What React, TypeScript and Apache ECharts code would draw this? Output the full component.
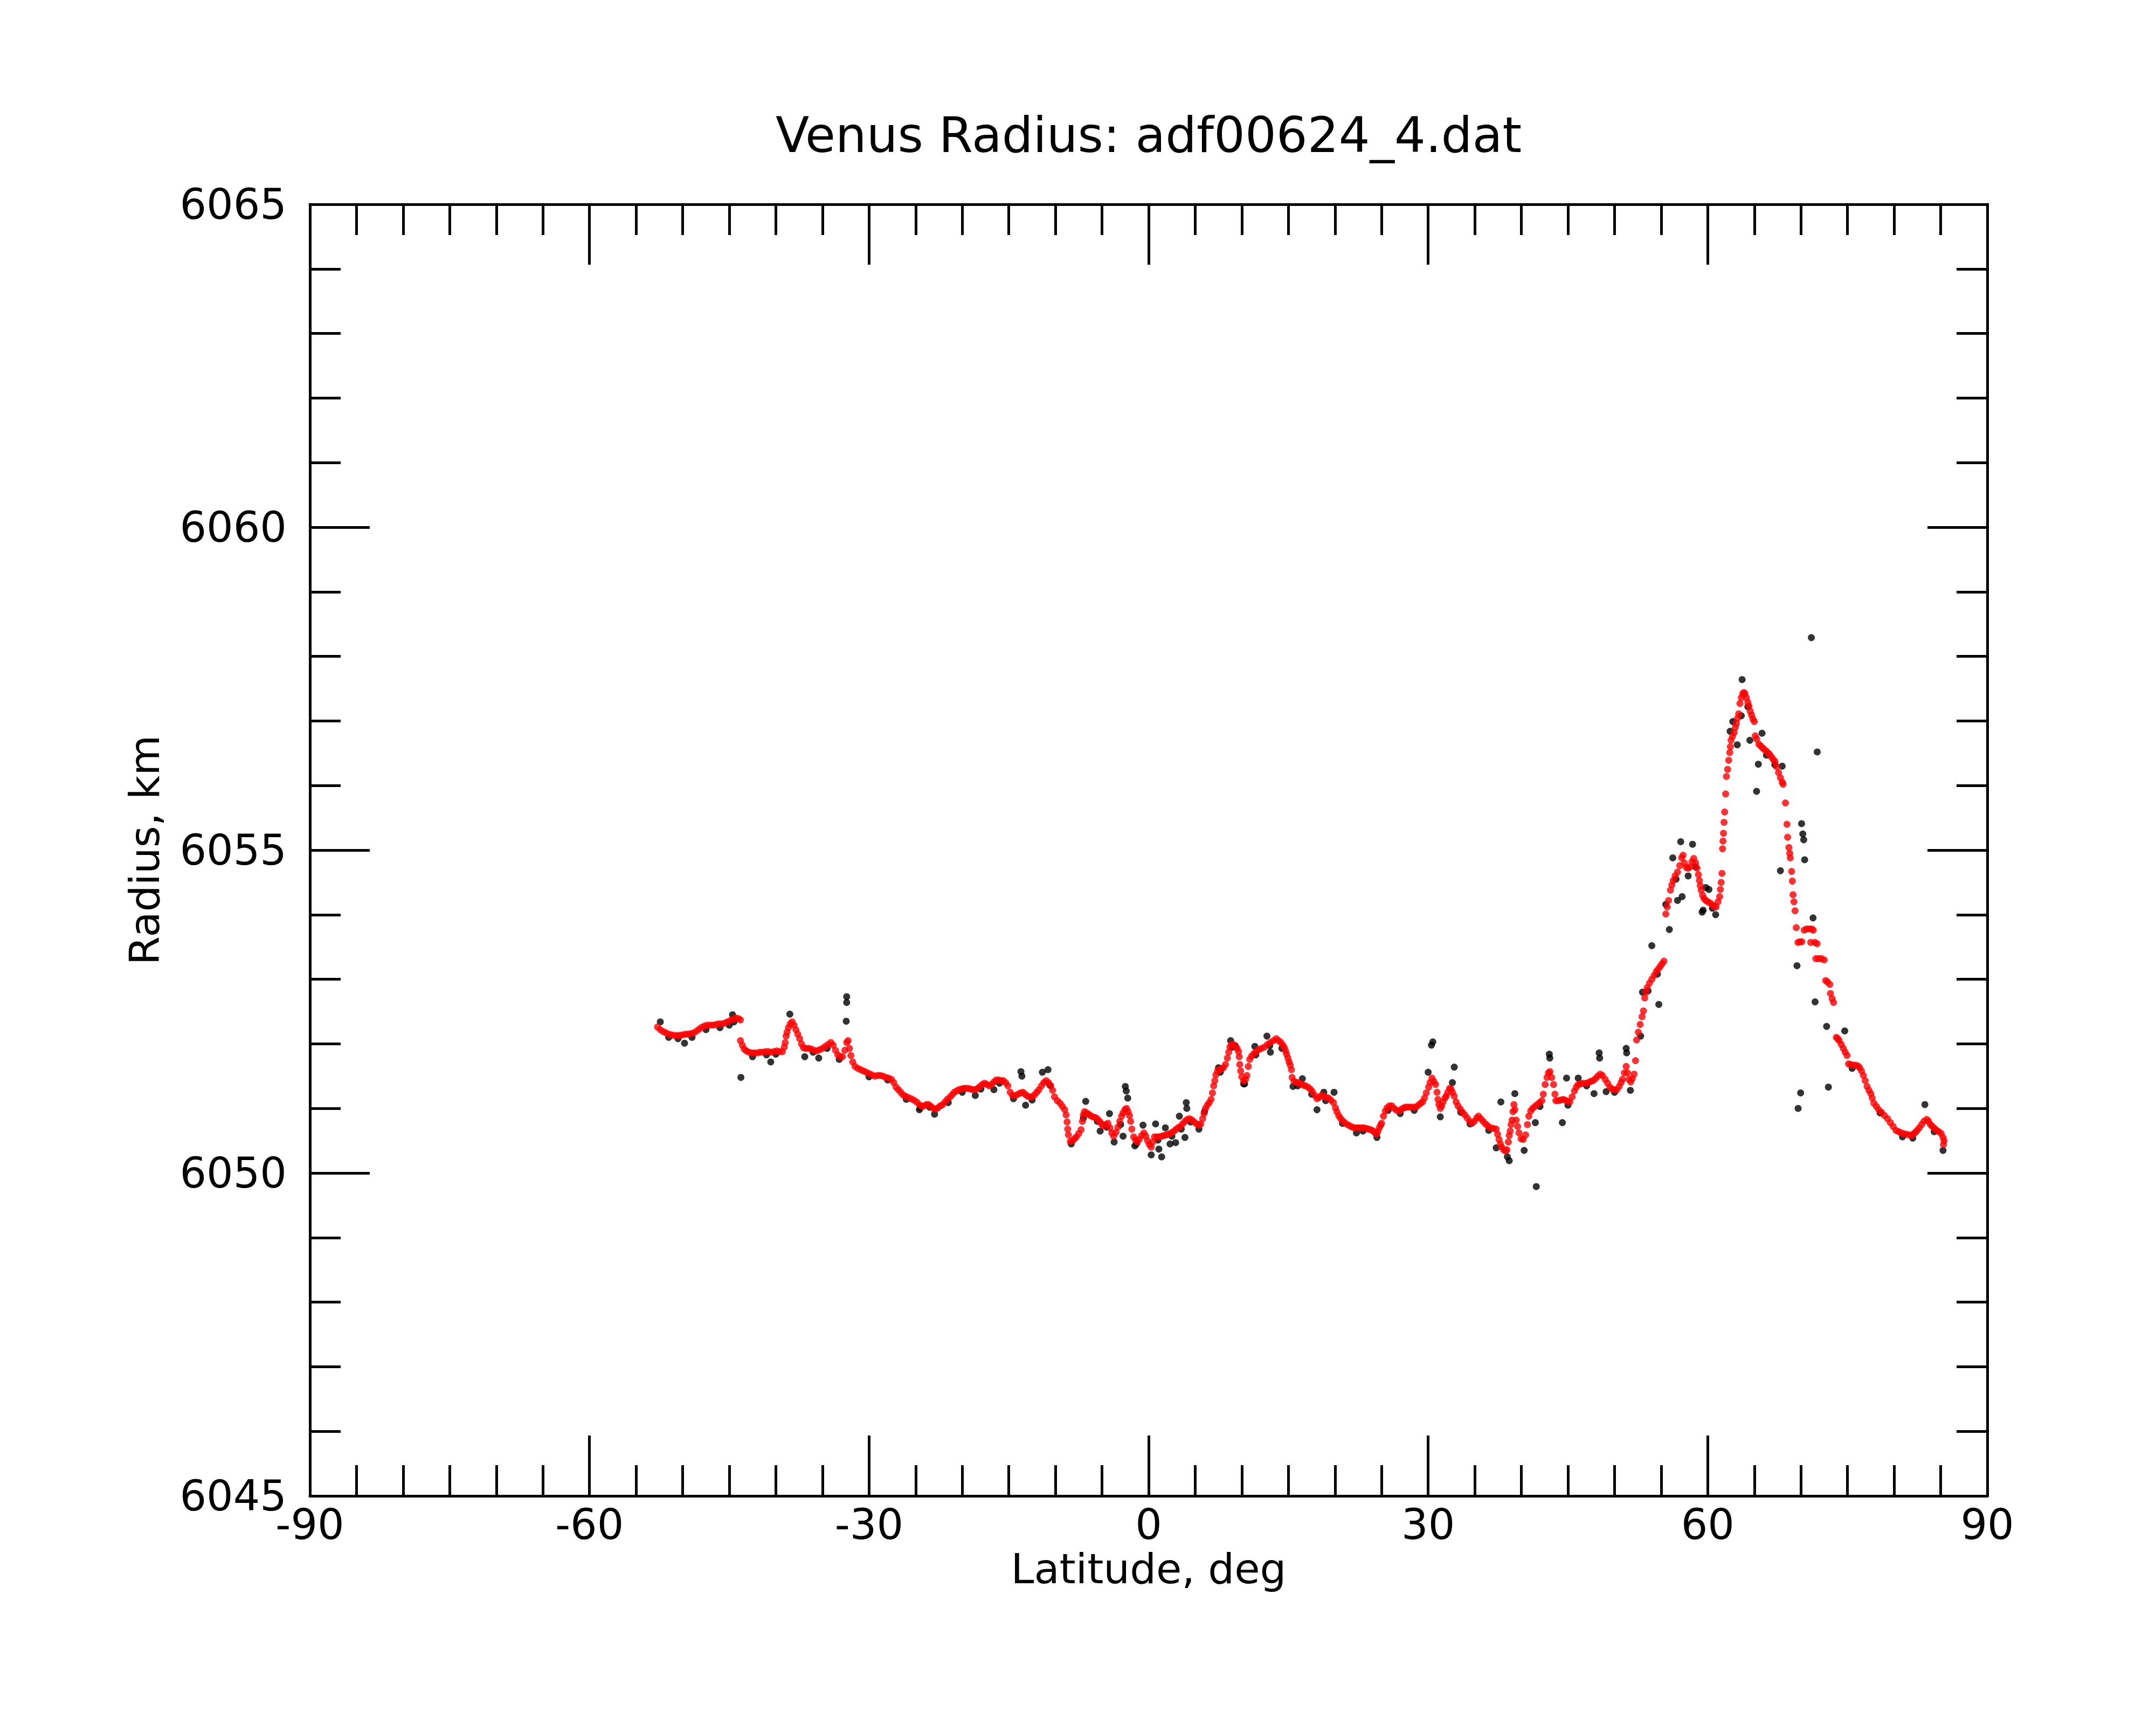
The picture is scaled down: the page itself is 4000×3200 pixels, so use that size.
import React, { useEffect, useRef } from "react";
import * as echarts from "echarts";

// ---- Text ----
const TITLE = "Venus Radius: adf00624_4.dat";
const X_NAME = "Latitude, deg";
const Y_NAME = "Radius, km";

// ---- Axes ----
const X_MIN = -90;
const X_MAX = 90;
const X_STEP = 30;
const Y_MIN = 6045;
const Y_MAX = 6065;
const Y_STEP = 5;

// ---- Smoothed radius (red), [latitude, radius km] ----
const redSouth: number[][] = [
  [-52.7, 6052.26], [-52.4, 6052.22], [-52.1, 6052.19], [-51.8, 6052.17], [-51.5, 6052.15],
  [-51.2, 6052.14], [-50.9, 6052.13], [-50.6, 6052.13], [-50.3, 6052.13], [-50.0, 6052.14],
  [-49.7, 6052.15], [-49.4, 6052.15], [-49.1, 6052.16], [-48.8, 6052.17], [-48.5, 6052.2],
  [-48.2, 6052.23], [-47.9, 6052.26], [-47.6, 6052.28], [-47.3, 6052.29], [-47.0, 6052.29],
  [-46.7, 6052.29], [-46.4, 6052.3], [-46.1, 6052.31], [-45.8, 6052.31], [-45.5, 6052.32],
  [-45.2, 6052.34], [-44.9, 6052.36], [-44.6, 6052.38], [-44.3, 6052.4], [-44.0, 6052.39],
  [-43.8, 6052.37],
];

const redSouthMid: number[][] = [
  [-43.8, 6052.05], [-43.6, 6051.98], [-43.4, 6051.92], [-43.16, 6051.89], [-42.9, 6051.87],
  [-42.6, 6051.86], [-42.3, 6051.86], [-42.0, 6051.86], [-41.7, 6051.87], [-41.4, 6051.87],
  [-41.1, 6051.88], [-40.8, 6051.88], [-40.5, 6051.87], [-40.2, 6051.88], [-39.9, 6051.89],
  [-39.6, 6051.88], [-39.3, 6051.88], [-39.1, 6051.95], [-39.0, 6052.02], [-38.9, 6052.12],
  [-38.8, 6052.18], [-38.65, 6052.25], [-38.45, 6052.31], [-38.25, 6052.34], [-38.05, 6052.29],
  [-37.85, 6052.22], [-37.65, 6052.15], [-37.45, 6052.08], [-37.25, 6052.0], [-37.05, 6051.94],
  [-36.8, 6051.93], [-36.5, 6051.93], [-36.2, 6051.92], [-35.9, 6051.9], [-35.6, 6051.89],
  [-35.3, 6051.91], [-35.0, 6051.93], [-34.7, 6051.96], [-34.4, 6051.99], [-34.1, 6052.02],
  [-33.85, 6051.98], [-33.6, 6051.9], [-33.35, 6051.83], [-33.1, 6051.8], [-32.85, 6051.8],
  [-32.6, 6051.9], [-32.4, 6052.02], [-32.25, 6052.05], [-32.1, 6051.93], [-31.95, 6051.82],
  [-31.75, 6051.72], [-31.5, 6051.65], [-31.2, 6051.62], [-30.9, 6051.6], [-30.6, 6051.58],
  [-30.3, 6051.56], [-30.0, 6051.54], [-29.7, 6051.52], [-29.4, 6051.5], [-29.1, 6051.51],
  [-28.8, 6051.51], [-28.5, 6051.5], [-28.2, 6051.48], [-27.9, 6051.47], [-27.6, 6051.45],
  [-27.35, 6051.4], [-27.1, 6051.33], [-26.85, 6051.29], [-26.6, 6051.25], [-26.35, 6051.21],
  [-26.1, 6051.19], [-25.8, 6051.17], [-25.5, 6051.15], [-25.2, 6051.13], [-24.9, 6051.1],
  [-24.6, 6051.06], [-24.35, 6051.03], [-24.1, 6051.04], [-23.85, 6051.06], [-23.6, 6051.06],
  [-23.35, 6051.03], [-23.1, 6051.0], [-22.85, 6050.99], [-22.6, 6051.01], [-22.35, 6051.04],
  [-22.1, 6051.06], [-21.85, 6051.1], [-21.6, 6051.14], [-21.35, 6051.17], [-21.1, 6051.21],
  [-20.85, 6051.25], [-20.6, 6051.27], [-20.34, 6051.29], [-20.1, 6051.3], [-19.85, 6051.31],
  [-19.6, 6051.31], [-19.34, 6051.31], [-19.1, 6051.3], [-18.85, 6051.29], [-18.6, 6051.29],
  [-18.35, 6051.31], [-18.1, 6051.34], [-17.85, 6051.37], [-17.6, 6051.39], [-17.35, 6051.37],
  [-17.1, 6051.35], [-16.85, 6051.37], [-16.6, 6051.41], [-16.35, 6051.44], [-16.1, 6051.44],
  [-15.85, 6051.43], [-15.6, 6051.43], [-15.35, 6051.4], [-15.1, 6051.35], [-14.85, 6051.25],
  [-14.6, 6051.2], [-14.3, 6051.2], [-14.0, 6051.22], [-13.75, 6051.24], [-13.5, 6051.25],
  [-13.25, 6051.22], [-13.0, 6051.19], [-12.75, 6051.18], [-12.5, 6051.18], [-12.25, 6051.21],
  [-12.0, 6051.25], [-11.77, 6051.29], [-11.5, 6051.35], [-11.25, 6051.4], [-11.0, 6051.43],
  [-10.75, 6051.4], [-10.5, 6051.35], [-10.3, 6051.28], [-10.1, 6051.18], [-9.8, 6051.12],
  [-9.5, 6051.08], [-9.25, 6051.03], [-9.0, 6050.98], [-8.85, 6050.9], [-8.75, 6050.79],
  [-8.68, 6050.68], [-8.6, 6050.59], [-8.4, 6050.49], [-8.15, 6050.5], [-7.95, 6050.53],
  [-7.75, 6050.56], [-7.5, 6050.61], [-7.25, 6050.67], [-7.1, 6050.8], [-7.0, 6050.9],
  [-6.88, 6050.95], [-6.65, 6050.93], [-6.45, 6050.91], [-6.25, 6050.89], [-6.0, 6050.87],
  [-5.75, 6050.86], [-5.5, 6050.84], [-5.25, 6050.8], [-5.05, 6050.76], [-4.87, 6050.73],
  [-4.62, 6050.75], [-4.37, 6050.77], [-4.15, 6050.7], [-3.95, 6050.62], [-3.75, 6050.57],
  [-3.5, 6050.63], [-3.3, 6050.71], [-3.1, 6050.8], [-2.9, 6050.88], [-2.74, 6050.93],
  [-2.55, 6050.98], [-2.37, 6051.0], [-2.2, 6050.95], [-2.05, 6050.89], [-1.93, 6050.8],
  [-1.8, 6050.68], [-1.6, 6050.56], [-1.4, 6050.51], [-1.22, 6050.48], [-1.0, 6050.52],
  [-0.75, 6050.58], [-0.5, 6050.62], [-0.3, 6050.57], [-0.12, 6050.5],
];

const redEquator: number[][] = [
  [0.08, 6050.44], [0.28, 6050.4], [0.45, 6050.48], [0.63, 6050.56], [0.9, 6050.56],
  [1.15, 6050.56], [1.4, 6050.57], [1.65, 6050.58], [1.9, 6050.59], [2.15, 6050.6],
  [2.4, 6050.62], [2.65, 6050.64], [2.9, 6050.67], [3.15, 6050.7], [3.4, 6050.72],
  [3.65, 6050.76], [3.9, 6050.8], [4.15, 6050.83], [4.4, 6050.84], [4.65, 6050.82],
  [4.9, 6050.79], [5.15, 6050.76], [5.4, 6050.74], [5.6, 6050.76], [5.8, 6050.84],
  [5.95, 6050.92], [6.1, 6051.0], [6.3, 6051.05], [6.5, 6051.09], [6.7, 6051.14],
  [6.85, 6051.24], [6.98, 6051.35], [7.1, 6051.43], [7.22, 6051.52], [7.4, 6051.58],
  [7.6, 6051.6], [7.8, 6051.61], [8.03, 6051.63], [8.25, 6051.68], [8.45, 6051.78],
  [8.6, 6051.87], [8.72, 6051.95], [8.9, 6051.99], [9.1, 6051.99], [9.3, 6051.96],
  [9.5, 6051.93], [9.65, 6051.88], [9.72, 6051.8], [9.78, 6051.68], [9.88, 6051.58],
  [10.0, 6051.49], [10.2, 6051.42], [10.4, 6051.45], [10.55, 6051.51], [10.7, 6051.65],
  [10.85, 6051.76], [11.05, 6051.81], [11.3, 6051.85], [11.55, 6051.88], [11.8, 6051.91],
  [12.1, 6051.93], [12.43, 6051.95], [12.75, 6051.99], [13.07, 6052.02], [13.4, 6052.05],
  [13.7, 6052.08], [13.95, 6052.05], [14.2, 6052.02], [14.4, 6051.98], [14.57, 6051.94],
  [14.7, 6051.89], [14.8, 6051.84], [14.95, 6051.78], [15.07, 6051.72], [15.2, 6051.67],
  [15.33, 6051.6], [15.4, 6051.48], [15.6, 6051.42], [15.85, 6051.4], [16.07, 6051.4],
  [16.35, 6051.38], [16.6, 6051.36], [16.83, 6051.35], [17.1, 6051.33], [17.35, 6051.3],
  [17.58, 6051.26], [17.85, 6051.2], [18.07, 6051.15], [18.3, 6051.17], [18.55, 6051.2],
  [18.8, 6051.19], [19.05, 6051.17], [19.3, 6051.16], [19.55, 6051.13], [19.84, 6051.09],
  [20.05, 6051.01], [20.2, 6050.95], [20.4, 6050.89], [20.58, 6050.85], [20.8, 6050.81],
  [21.05, 6050.78], [21.33, 6050.75], [21.6, 6050.73], [21.85, 6050.71], [22.1, 6050.7],
  [22.35, 6050.7], [22.6, 6050.7], [22.85, 6050.7], [23.1, 6050.7], [23.35, 6050.69],
  [23.6, 6050.68], [23.85, 6050.67], [24.1, 6050.65], [24.3, 6050.62], [24.46, 6050.6],
  [24.6, 6050.64], [24.75, 6050.7], [24.9, 6050.74], [25.0, 6050.77], [25.2, 6050.88],
  [25.4, 6050.96], [25.6, 6051.01], [25.85, 6051.04], [26.1, 6051.04], [26.35, 6051.0],
  [26.6, 6050.97], [26.9, 6050.96], [27.15, 6050.99], [27.4, 6051.01], [27.6, 6051.02],
  [27.85, 6051.02], [28.1, 6051.02], [28.4, 6051.02], [28.7, 6051.02], [28.95, 6051.05],
  [29.2, 6051.08], [29.4, 6051.1], [29.6, 6051.16], [29.8, 6051.24], [30.05, 6051.33],
  [30.2, 6051.4], [30.4, 6051.47], [30.6, 6051.42], [30.8, 6051.37], [30.95, 6051.25],
  [31.05, 6051.14], [31.15, 6051.06], [31.3, 6051.0], [31.45, 6051.04], [31.6, 6051.1],
  [31.8, 6051.16], [31.93, 6051.19], [32.1, 6051.25], [32.3, 6051.31], [32.45, 6051.3],
  [32.6, 6051.25], [32.8, 6051.19], [33.0, 6051.1], [33.2, 6051.04], [33.45, 6050.99],
  [33.7, 6050.94], [33.93, 6050.9], [34.2, 6050.85], [34.45, 6050.8], [34.7, 6050.77],
  [34.95, 6050.8], [35.2, 6050.85], [35.4, 6050.88], [35.65, 6050.84], [35.9, 6050.8],
  [36.15, 6050.76], [36.4, 6050.73], [36.7, 6050.7], [37.0, 6050.69], [37.3, 6050.68],
];

const redNorthMid: number[][] = [
  [37.45, 6050.6], [37.6, 6050.52], [37.75, 6050.45], [37.9, 6050.4], [38.1, 6050.36],
  [38.3, 6050.34], [38.45, 6050.36], [38.6, 6050.48], [38.7, 6050.58], [38.8, 6050.65],
  [38.9, 6050.75], [39.0, 6050.82], [39.1, 6050.95], [39.2, 6051.06], [39.3, 6050.98],
  [39.45, 6050.82], [39.6, 6050.72], [39.75, 6050.62], [39.97, 6050.53], [40.2, 6050.52],
  [40.46, 6050.59], [40.65, 6050.75], [40.8, 6050.88], [41.0, 6050.96], [41.2, 6051.0],
  [41.45, 6051.03], [41.7, 6051.06], [41.95, 6051.09], [42.2, 6051.12], [42.35, 6051.22],
  [42.55, 6051.37], [42.75, 6051.48], [42.9, 6051.55], [43.07, 6051.57], [43.25, 6051.48],
  [43.46, 6051.37], [43.6, 6051.22], [43.7, 6051.12], [43.95, 6051.12], [44.2, 6051.13],
  [44.47, 6051.14], [44.7, 6051.13], [44.95, 6051.11], [45.2, 6051.1], [45.45, 6051.18],
  [45.7, 6051.27], [45.9, 6051.33], [46.1, 6051.37], [46.35, 6051.38], [46.6, 6051.39],
  [46.97, 6051.39], [47.2, 6051.4], [47.45, 6051.42], [47.7, 6051.43], [47.95, 6051.46],
  [48.2, 6051.5], [48.46, 6051.53], [48.7, 6051.51], [49.0, 6051.45], [49.25, 6051.39],
  [49.5, 6051.33], [49.75, 6051.3], [50.0, 6051.29], [50.25, 6051.29], [50.5, 6051.34],
  [50.7, 6051.4], [50.86, 6051.45], [51.05, 6051.55], [51.25, 6051.65], [51.4, 6051.55],
  [51.55, 6051.45], [51.74, 6051.41], [51.9, 6051.46], [52.1, 6051.53], [52.25, 6051.74],
  [52.37, 6052.06], [52.55, 6052.18], [52.75, 6052.3], [52.95, 6052.42], [53.1, 6052.51],
  [53.24, 6052.71], [53.38, 6052.8], [53.5, 6052.87], [53.75, 6052.94], [54.0, 6053.0],
  [54.25, 6053.06], [54.48, 6053.12], [54.7, 6053.16], [54.9, 6053.2], [55.1, 6053.24],
  [55.3, 6053.28], [55.5, 6054.01], [55.65, 6054.12], [55.8, 6054.22], [56.0, 6054.38],
  [56.15, 6054.46], [56.3, 6054.53], [56.5, 6054.6], [56.76, 6054.66], [57.0, 6054.76],
  [57.2, 6054.88], [57.35, 6054.92], [57.5, 6054.8], [57.7, 6054.73], [57.9, 6054.72],
  [58.1, 6054.74], [58.3, 6054.82], [58.5, 6054.87], [58.7, 6054.8], [58.85, 6054.72],
  [59.0, 6054.62], [59.1, 6054.53], [59.2, 6054.45], [59.3, 6054.38], [59.45, 6054.3],
  [59.6, 6054.25], [59.8, 6054.22], [60.0, 6054.2], [60.26, 6054.18], [60.5, 6054.15],
  [60.7, 6054.13], [60.9, 6054.12], [61.1, 6054.2], [61.28, 6054.28],
];

const redNorth: number[][] = [
  [61.36, 6054.39], [61.44, 6054.5], [61.53, 6054.64], [61.59, 6055.02], [61.64, 6055.14],
  [61.69, 6055.26], [61.75, 6055.43], [61.82, 6055.59], [61.92, 6055.87], [62.01, 6056.14],
  [62.13, 6056.25], [62.25, 6056.39], [62.36, 6056.51], [62.43, 6056.6], [62.5, 6056.7],
  [62.65, 6056.76], [62.84, 6056.82], [62.96, 6056.9], [63.08, 6056.96], [63.2, 6057.04],
  [63.32, 6057.11], [63.46, 6057.27], [63.6, 6057.36], [63.75, 6057.42], [63.88, 6057.44],
  [64.0, 6057.42], [64.15, 6057.36], [64.3, 6057.29], [64.42, 6057.23], [64.56, 6057.15],
  [64.71, 6057.09], [64.85, 6057.03], [65.0, 6056.99], [65.1, 6056.77], [65.25, 6056.72],
  [65.48, 6056.64], [65.7, 6056.61], [65.9, 6056.58], [66.06, 6056.56], [66.3, 6056.53],
  [66.5, 6056.5], [66.64, 6056.48], [66.85, 6056.44], [67.05, 6056.4], [67.22, 6056.37],
  [67.4, 6056.29], [67.6, 6056.2], [67.8, 6056.12], [68.0, 6056.05], [68.09, 6056.02],
  [68.34, 6055.73], [68.5, 6055.4], [68.57, 6055.2], [68.71, 6055.04], [68.8, 6054.95],
  [68.86, 6054.88], [69.0, 6054.67], [69.08, 6054.52], [69.15, 6054.31], [69.25, 6054.2],
  [69.37, 6054.06], [69.5, 6053.8], [69.68, 6053.57], [69.9, 6053.58], [70.1, 6053.58],
  [70.35, 6053.76], [70.6, 6053.78], [70.9, 6053.78], [71.15, 6053.78], [71.33, 6053.76],
  [71.05, 6053.57], [71.5, 6053.57], [71.74, 6053.55], [71.6, 6053.32], [71.9, 6053.32],
  [72.2, 6053.32], [72.5, 6053.3], [72.65, 6052.98], [72.85, 6052.96], [73.1, 6052.92],
  [73.17, 6052.78], [73.35, 6052.7], [73.5, 6052.64], [73.8, 6052.1], [73.95, 6052.08],
  [74.1, 6052.05], [74.33, 6051.99], [74.55, 6051.93], [74.75, 6051.87], [74.95, 6051.82],
  [75.1, 6051.69], [75.35, 6051.68], [75.6, 6051.67], [75.85, 6051.67], [76.1, 6051.66],
  [76.3, 6051.63], [76.5, 6051.58], [76.7, 6051.51], [76.9, 6051.43], [77.1, 6051.34],
  [77.3, 6051.28], [77.5, 6051.23], [77.65, 6051.16], [77.83, 6051.08], [78.1, 6051.03],
  [78.35, 6050.98], [78.65, 6050.94], [78.97, 6050.89], [79.3, 6050.84], [79.6, 6050.78],
  [79.9, 6050.72], [80.2, 6050.66], [80.5, 6050.64], [80.75, 6050.62], [81.0, 6050.61],
  [81.3, 6050.6], [81.6, 6050.59], [81.86, 6050.58], [82.1, 6050.61], [82.3, 6050.63],
  [82.47, 6050.66], [82.7, 6050.7], [82.95, 6050.75], [83.2, 6050.8], [83.5, 6050.83],
  [83.7, 6050.8], [83.9, 6050.75], [84.1, 6050.72], [84.35, 6050.69], [84.55, 6050.66],
  [84.8, 6050.64], [85.06, 6050.61], [85.25, 6050.55], [85.36, 6050.5], [85.3, 6050.44],
];

// ---- Raw radius (black): scattered points ----
const blackOutliers: number[][] = [
  [-52.4, 6052.34], [-49.8, 6052.01], [-44.65, 6052.45], [-43.75, 6051.48], [-40.55, 6051.72],
  [-38.5, 6052.46], [-36.9, 6051.8], [-35.4, 6051.78], [-32.4, 6052.73], [-32.4, 6052.64],
  [-32.45, 6052.35], [-22.97, 6050.91], [-24.6, 6050.98], [-18.6, 6051.2], [-16.6, 6051.29],
  [-13.7, 6051.57], [-13.6, 6051.5], [-13.2, 6051.05], [-11.4, 6051.56], [-10.8, 6051.6],
  [-6.75, 6051.11], [-5.2, 6050.65], [-4.2, 6050.92], [-3.7, 6050.48], [-2.5, 6051.34],
  [-2.4, 6051.27], [-2.24, 6051.16], [-2.74, 6050.57], [-1.48, 6050.42], [-0.6, 6050.74],
  [0.28, 6050.28], [0.75, 6050.76], [1.1, 6050.37], [1.4, 6050.25], [1.8, 6050.7],
  [2.3, 6050.45], [2.9, 6050.47], [3.3, 6050.88], [4.04, 6051.09], [4.1, 6051.0],
  [3.9, 6050.55], [5.4, 6050.68], [7.5, 6051.63], [8.8, 6052.05], [9.3, 6051.97],
  [10.2, 6051.38], [11.4, 6051.96], [12.7, 6052.12], [13.07, 6051.87], [15.5, 6051.34],
  [16.5, 6051.46], [18.07, 6050.98], [18.8, 6051.25], [19.9, 6051.25], [22.3, 6050.62],
  [24.5, 6050.55], [30.0, 6051.56], [30.5, 6052.03], [30.35, 6051.98], [31.3, 6050.87],
  [32.8, 6051.64], [32.6, 6051.4], [37.3, 6050.39], [37.8, 6051.1], [38.7, 6050.19],
  [38.5, 6050.25], [39.3, 6051.23], [40.3, 6050.35], [41.5, 6050.78], [41.6, 6049.79],
  [43.0, 6051.84], [43.05, 6051.78], [44.85, 6051.47], [44.4, 6050.78], [46.1, 6051.47],
  [47.8, 6051.23], [48.35, 6051.86], [48.4, 6051.78], [49.1, 6051.26], [51.25, 6051.93],
  [51.3, 6051.86], [51.7, 6051.28], [52.8, 6052.12], [53.0, 6052.8], [54.0, 6053.52],
  [54.75, 6052.61], [55.5, 6054.16], [55.88, 6053.77], [56.25, 6054.88], [56.76, 6054.22],
  [57.1, 6055.13], [57.25, 6054.28], [57.9, 6054.6], [58.37, 6055.09], [59.4, 6054.04],
  [59.51, 6054.07], [59.8, 6054.42], [60.13, 6054.39], [60.85, 6054.0], [62.4, 6056.84],
  [62.69, 6056.99], [63.17, 6056.63], [63.6, 6057.08], [63.69, 6057.64], [64.52, 6056.7],
  [65.24, 6055.91], [65.43, 6056.33], [65.83, 6056.81], [67.8, 6054.68], [67.99, 6056.3],
  [69.58, 6053.21], [69.7, 6051.0], [69.97, 6051.24], [70.07, 6055.41], [70.2, 6055.25],
  [70.3, 6055.16], [70.4, 6054.85], [71.12, 6058.29], [71.3, 6053.95], [71.52, 6052.65],
  [71.75, 6056.52], [72.76, 6052.27], [72.95, 6051.33], [74.7, 6052.2], [83.3, 6051.06],
  [85.25, 6050.35],
];

const blackNearCurve: number[][] = [
  [-51.5, 6052.1], [-50.5, 6052.08], [-49.0, 6052.1], [-47.5, 6052.22], [-46.0, 6052.25],
  [-45.0, 6052.29], [-44.5, 6052.34], [-42.5, 6051.8], [-41.0, 6051.83], [-40.0, 6051.84],
  [-36.0, 6051.87], [-34.5, 6051.93], [-33.2, 6051.76], [-30.0, 6051.49], [-28.0, 6051.44],
  [-26.0, 6051.14], [-24.5, 6051.01], [-23.5, 6051.02], [-21.5, 6051.09], [-20.0, 6051.25],
  [-18.0, 6051.3], [-16.0, 6051.39], [-14.5, 6051.15], [-12.5, 6051.13], [-10.6, 6051.36],
  [-8.3, 6050.45], [-7.0, 6050.85], [-5.5, 6050.8], [-4.5, 6050.71], [-3.0, 6050.75],
  [-1.3, 6050.45], [1.0, 6050.51], [2.5, 6050.57], [3.5, 6050.68], [4.5, 6050.79],
  [6.0, 6050.95], [7.7, 6051.56], [9.0, 6051.95], [10.3, 6051.38], [11.5, 6051.83],
  [13.0, 6051.97], [14.3, 6051.93], [16.0, 6051.35], [17.5, 6051.22], [19.0, 6051.12],
  [20.8, 6050.77], [23.0, 6050.65], [25.7, 6050.97], [27.0, 6050.92], [28.5, 6050.97],
  [33.5, 6050.94], [34.5, 6050.76], [36.5, 6050.66], [42.0, 6051.03], [45.0, 6051.05],
  [47.0, 6051.35], [50.0, 6051.25], [53.6, 6052.82], [54.6, 6053.08], [56.6, 6054.55],
  [58.7, 6054.74], [60.5, 6054.1], [64.3, 6057.22], [66.3, 6056.47], [67.2, 6056.32],
  [75.5, 6051.62], [78.5, 6050.93], [80.9, 6050.56], [82.0, 6050.54], [84.3, 6050.64],
];

const FONT = "DejaVu Sans";
const W = 4000;
const H = 3200;
const GRID = { left: 575, right: 313, top: 379, bottom: 425 };

function axisX(position: "bottom" | "top", showLabel: boolean) {
  return {
    type: "value",
    position,
    min: X_MIN,
    max: X_MAX,
    interval: X_STEP,
    axisLine: { show: true, onZero: false, lineStyle: { color: "#000", width: 5 } },
    axisTick: { show: true, inside: true, length: 112, lineStyle: { color: "#000", width: 5 } },
    minorTick: { show: true, splitNumber: 6, length: 57, lineStyle: { color: "#000", width: 5 } },
    splitLine: { show: false },
    minorSplitLine: { show: false },
    axisLabel: {
      show: showLabel,
      fontSize: 78,
      color: "#000",
      fontFamily: FONT,
      margin: 14,
      formatter: (v: number) => String(v),
    },
  };
}

function axisY(position: "left" | "right", showLabel: boolean) {
  return {
    type: "value",
    position,
    min: Y_MIN,
    max: Y_MAX,
    interval: Y_STEP,
    axisLine: { show: true, onZero: false, lineStyle: { color: "#000", width: 5 } },
    axisTick: { show: true, inside: true, length: 111, lineStyle: { color: "#000", width: 5 } },
    minorTick: { show: true, splitNumber: 5, length: 57, lineStyle: { color: "#000", width: 5 } },
    splitLine: { show: false },
    minorSplitLine: { show: false },
    axisLabel: {
      show: showLabel,
      fontSize: 78,
      color: "#000",
      fontFamily: FONT,
      margin: 43,
      formatter: (v: number) => String(v),
    },
  };
}

export default function App() {
  const ref = useRef<HTMLDivElement>(null);
  useEffect(() => {
    if (!ref.current) return;
    const chart = echarts.init(ref.current, null, { renderer: "svg", width: W, height: H });
    const plotCx = GRID.left + (W - GRID.left - GRID.right) / 2;
    const plotCy = GRID.top + (H - GRID.top - GRID.bottom) / 2;
    const red = [...redSouth, ...redSouthMid, ...redEquator, ...redNorthMid, ...redNorth];
    const black = [...blackNearCurve, ...blackOutliers];
    chart.setOption({
      animation: false,
      backgroundColor: "#fff",
      grid: { ...GRID, containLabel: false },
      xAxis: [axisX("bottom", true), axisX("top", false)],
      yAxis: [axisY("left", true), axisY("right", false)],
      graphic: [
        {
          type: "text",
          x: plotCx,
          y: 250,
          style: { text: TITLE, font: `91px "${FONT}"`, fill: "#000", textAlign: "center", textVerticalAlign: "middle" },
        },
        {
          type: "text",
          x: plotCx,
          y: 2910,
          style: { text: X_NAME, font: `77px "${FONT}"`, fill: "#000", textAlign: "center", textVerticalAlign: "middle" },
        },
        {
          type: "text",
          x: 268,
          y: plotCy,
          rotation: Math.PI / 2,
          style: { text: Y_NAME, font: `77px "${FONT}"`, fill: "#000", textAlign: "center", textVerticalAlign: "middle" },
        },
      ],
      series: [
        {
          type: "scatter",
          name: "raw",
          xAxisIndex: 0,
          yAxisIndex: 0,
          data: black,
          symbol: "circle",
          symbolSize: 13,
          itemStyle: { color: "#000" },
          z: 2,
          silent: true,
        },
        {
          type: "scatter",
          name: "smoothed",
          xAxisIndex: 0,
          yAxisIndex: 0,
          data: red,
          symbol: "circle",
          symbolSize: 13,
          itemStyle: { color: "#ff0000" },
          z: 3,
          silent: true,
        },
      ],
    });
    return () => chart.dispose();
  }, []);
  return <div ref={ref} style={{ position: "absolute", left: 0, top: 0, width: W, height: H }} />;
}
